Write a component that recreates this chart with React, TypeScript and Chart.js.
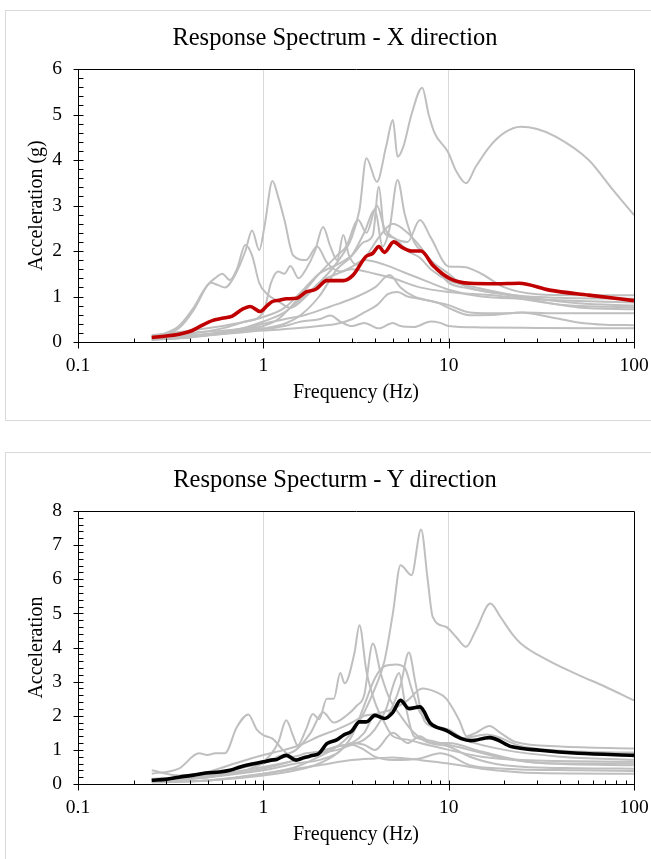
import React, { useEffect, useRef } from "react";
import { Chart, registerables } from "chart.js";

Chart.register(...registerables);

type Pt = [number, number];

const X_TICKS = [0.1, 1, 10, 100];
const X_LABELS = ["0.1", "1", "10", "100"];

// ---------- X direction ----------
const X_MEAN: Pt[] = [[0.25,0.10],[0.3,0.13],[0.35,0.17],[0.4,0.23],[0.45,0.33],[0.53,0.47],[0.6,0.52],[0.68,0.57],[0.77,0.72],[0.85,0.78],[0.96,0.67],[1.05,0.8],[1.12,0.89],[1.23,0.92],[1.33,0.95],[1.51,0.96],[1.7,1.1],[1.92,1.16],[2.2,1.35],[2.7,1.35],[3.05,1.47],[3.58,1.88],[3.9,1.95],[4.2,2.1],[4.5,1.97],[5.05,2.2],[5.6,2.08],[6.3,2.0],[7.1,2.0],[8.2,1.69],[10.1,1.4],[13,1.29],[18,1.28],[24,1.29],[35,1.14],[57,1.03],[100,0.91]];
const X_G1: Pt[] = [[0.25,0.05],[0.4,0.12],[0.6,0.22],[0.8,0.32],[1,0.45],[1.3,0.65],[1.6,0.95],[2,1.3],[2.5,1.75],[3,2.3],[3.3,2.9],[3.6,4.04],[4.1,3.52],[4.6,4.3],[5.0,4.88],[5.3,4.07],[5.7,4.3],[6.3,5.0],[7.2,5.59],[7.8,5.0],[8.4,4.59],[9.9,4.18],[11,3.75],[12.4,3.49],[14,3.85],[16.6,4.29],[20,4.6],[24.5,4.73],[30,4.68],[38,4.51],[57,4.0],[75,3.4],[100,2.79]];
const X_G2: Pt[] = [[0.25,0.12],[0.3,0.2],[0.35,0.35],[0.42,0.75],[0.48,1.15],[0.52,1.3],[0.57,1.25],[0.62,1.2],[0.7,1.45],[0.8,2.0],[0.87,2.45],[0.95,2.02],[1.02,2.6],[1.12,3.54],[1.2,3.2],[1.3,2.68],[1.45,1.9],[1.7,1.8],[1.95,2.1],[2.2,1.75],[2.6,1.55],[3.0,1.65],[3.5,1.8],[4.5,1.7],[6,1.5],[8,1.3],[10,1.15],[15,1.0],[25,0.95],[50,0.9],[100,0.87]];
const X_G3: Pt[] = [[0.25,0.1],[0.3,0.18],[0.35,0.3],[0.42,0.7],[0.5,1.25],[0.56,1.43],[0.6,1.5],[0.66,1.36],[0.72,1.6],[0.8,2.13],[0.87,1.9],[0.95,1.3],[1.05,1.05],[1.2,0.9],[1.4,0.75],[1.7,1.0],[2.0,1.3],[2.5,1.5],[3,1.6],[4,1.5],[5,1.4],[7,1.2],[10,1.1],[20,1.0],[40,0.82],[100,0.76]];
const X_G4: Pt[] = [[0.25,0.1],[0.4,0.18],[0.6,0.3],[0.8,0.45],[1.0,0.65],[1.1,1.3],[1.2,1.55],[1.3,1.5],[1.4,1.67],[1.55,1.4],[1.7,1.6],[1.9,2.0],[2.1,2.53],[2.3,2.1],[2.5,1.8],[2.7,2.35],[2.9,1.9],[3.2,1.7],[3.6,1.9],[4.2,2.3],[5,2.6],[6,2.4],[7,2.1],[8,1.8],[10,1.5],[12,1.25],[20,1.05],[40,0.97],[100,0.95]];
const X_G5: Pt[] = [[0.25,0.15],[0.35,0.22],[0.5,0.3],[0.7,0.4],[1.0,0.55],[1.3,0.75],[1.6,1.1],[2.0,1.5],[2.5,1.7],[3.0,1.9],[3.5,2.2],[3.9,2.35],[4.2,3.41],[4.5,2.4],[5,2.3],[6,2.0],[7,1.85],[8,1.6],[10,1.35],[14,1.2],[25,1.0],[50,0.85],[100,0.8]];
const X_G6: Pt[] = [[0.25,0.05],[0.4,0.1],[0.6,0.18],[0.8,0.25],[1,0.3],[1.3,0.4],[1.6,0.6],[2,1.0],[2.5,1.6],[3,1.9],[3.5,2.4],[4,2.9],[4.4,2.1],[4.8,2.5],[5.3,3.56],[5.8,2.8],[6.5,2.2],[7.5,1.9],[9,1.5],[10,1.3],[12,1.2],[20,1.05],[50,0.76],[100,0.72]];
const X_G7: Pt[] = [[0.25,0.05],[0.4,0.1],[0.6,0.2],[0.8,0.28],[1,0.35],[1.2,0.5],[1.5,0.9],[2,1.5],[2.5,1.9],[2.8,2.1],[3.25,2.68],[3.6,2.4],[4.1,3.0],[4.5,2.5],[5,2.3],[6,2.2],[7,2.68],[8,2.3],[10,1.66],[12,1.65],[15,1.5],[20,1.2],[30,1.05],[50,1.03],[100,1.03]];
const X_G8: Pt[] = [[0.25,0.08],[0.5,0.15],[1,0.25],[1.5,0.3],[2,0.35],[2.5,0.4],[3,0.5],[3.5,0.65],[4.1,0.81],[4.7,1.05],[5.3,1.1],[6,1.0],[7,0.95],[8.9,0.85],[10,0.75],[13,0.59],[18,0.6],[24.5,0.65],[35,0.55],[50,0.43],[70,0.38],[100,0.37]];
const X_G9: Pt[] = [[0.25,0.1],[0.4,0.15],[0.6,0.2],[0.8,0.25],[1,0.28],[1.3,0.35],[1.6,0.45],[2,0.5],[2.3,0.58],[2.6,0.45],[3,0.35],[3.5,0.42],[4.2,0.3],[5,0.42],[5.5,0.35],[6.5,0.33],[8,0.45],[9,0.42],[10,0.35],[15,0.32],[30,0.31],[100,0.3]];
const X_G10: Pt[] = [[0.25,0.12],[0.4,0.2],[0.6,0.25],[0.8,0.3],[1,0.4],[1.3,0.5],[1.7,0.6],[2.3,0.78],[3,0.95],[4,1.2],[4.8,1.47],[5.5,1.2],[6.5,1.0],[8,0.9],[10,0.81],[13,0.65],[20,0.63],[25,0.65],[40,0.63],[100,0.63]];

// ---------- Y direction ----------
const Y_MEAN: Pt[] = [[0.25,0.11],[0.3,0.14],[0.35,0.2],[0.42,0.26],[0.49,0.32],[0.58,0.35],[0.66,0.4],[0.75,0.5],[0.81,0.55],[0.9,0.6],[1.0,0.65],[1.1,0.7],[1.18,0.72],[1.33,0.84],[1.5,0.7],[1.65,0.77],[1.86,0.84],[2.0,0.9],[2.2,1.18],[2.5,1.3],[2.7,1.43],[3.0,1.55],[3.3,1.82],[3.6,1.82],[4.0,2.01],[4.5,1.92],[5.0,2.1],[5.5,2.45],[6.1,2.21],[7.0,2.26],[8.0,1.77],[9.7,1.57],[11.7,1.33],[13.2,1.27],[16.6,1.36],[22,1.09],[31,0.99],[50,0.9],[100,0.84]];
const Y_G1: Pt[] = [[0.25,0.05],[0.5,0.1],[1,0.3],[1.5,0.5],[2,0.8],[2.5,1.1],[3,1.5],[3.5,2.1],[4,2.8],[4.5,3.6],[5,5.0],[5.5,6.41],[6.3,6.12],[7.1,7.46],[7.7,6.0],[8.2,4.9],[9.7,4.6],[11,4.3],[12.4,4.02],[14,4.5],[16.8,5.29],[19,4.9],[22,4.4],[24.5,4.12],[35,3.6],[50,3.2],[70,2.85],[100,2.45]];
const Y_G2: Pt[] = [[0.25,0.15],[0.4,0.2],[0.6,0.35],[0.8,0.5],[1,0.65],[1.2,1.2],[1.33,1.87],[1.45,1.4],[1.53,1.13],[1.7,1.6],[1.85,2.05],[2.0,1.9],[2.2,2.5],[2.4,2.5],[2.6,3.25],[2.75,2.95],[3.1,3.83],[3.3,4.65],[3.6,3.3],[4.0,2.4],[4.5,1.8],[5,1.4],[6,1.3],[7,1.2],[10,1.0],[15,0.8],[25,0.7],[100,0.65]];
const Y_G3: Pt[] = [[0.25,0.1],[0.5,0.2],[0.8,0.4],[1.0,0.6],[1.2,0.8],[1.5,1.0],[1.8,1.5],[2.1,2.1],[2.4,1.8],[2.8,2.0],[3.2,2.3],[3.5,2.6],[3.9,4.12],[4.3,3.24],[4.8,2.5],[5.5,2.0],[6.5,1.5],[8,1.2],[10,1.2],[15,0.95],[30,0.62],[100,0.55]];
const Y_G4: Pt[] = [[0.25,0.05],[0.5,0.1],[1,0.25],[1.5,0.4],[2,0.6],[2.5,0.9],[3,1.4],[3.5,2.3],[4,3.1],[4.5,3.45],[5.2,3.5],[5.8,3.4],[6.3,2.8],[7,2.1],[8,1.8],[10,1.5],[12,1.3],[20,1.0],[40,0.8],[100,0.71]];
const Y_G5: Pt[] = [[0.25,0.15],[0.5,0.25],[1,0.5],[1.5,0.7],[2,0.9],[2.5,1.1],[3,1.2],[3.5,1.5],[4,2.0],[4.5,1.9],[5,2.3],[5.5,2.9],[6.1,3.85],[6.6,3.0],[7.2,2.0],[8,1.7],[10,1.6],[12,1.35],[16,1.45],[25,1.1],[50,0.95],[100,0.92]];
const Y_G6: Pt[] = [[0.25,0.1],[0.5,0.2],[1,0.45],[1.5,0.7],[2,0.9],[2.5,1.0],[3,1.15],[3.5,1.3],[4,1.6],[4.6,2.2],[5.1,3.0],[5.4,3.25],[5.8,2.4],[6.5,1.4],[7.5,1.3],[9,1.2],[12,1.05],[20,0.75],[40,0.6],[100,0.6]];
const Y_G7: Pt[] = [[0.25,0.4],[0.35,0.25],[0.5,0.35],[0.7,0.6],[1,0.85],[1.3,1.0],[1.6,1.15],[2,1.4],[2.5,1.6],[3,1.8],[3.5,2.0],[4,2.05],[5,2.2],[6,2.45],[7.2,2.8],[8.5,2.7],[9.7,2.5],[11.4,1.87],[12.5,1.4],[14,1.5],[16.6,1.7],[19,1.5],[23,1.23],[40,1.1],[100,1.04]];
const Y_G8: Pt[] = [[0.25,0.3],[0.35,0.45],[0.45,0.9],[0.5,0.85],[0.55,0.9],[0.62,0.9],[0.72,1.67],[0.83,2.04],[0.92,1.6],[1.0,1.43],[1.12,1.33],[1.28,0.99],[1.45,0.8],[1.7,0.9],[2,0.95],[2.5,1.1],[3,1.15],[3.5,1.0],[4,0.8],[5,0.7],[7,0.75],[9,0.9],[10,0.85],[13,0.55],[20,0.45],[50,0.4],[100,0.38]];
const Y_G9: Pt[] = [[0.25,0.05],[0.5,0.1],[1,0.3],[1.5,0.45],[2,0.55],[3,0.7],[4,0.75],[5,0.78],[7,0.7],[10,0.6],[15,0.45],[30,0.32],[100,0.3]];
const Y_G10: Pt[] = [[0.25,0.1],[0.5,0.2],[1,0.4],[1.5,0.6],[2,0.7],[2.5,0.9],[3,1.2],[3.5,1.15],[4,1.0],[5,1.5],[6,1.2],[7,1.4],[8,1.2],[10,1.1],[13,0.8],[20,0.55],[50,0.46],[100,0.45]];

const X_GRAYS = [X_G1, X_G2, X_G3, X_G4, X_G5, X_G6, X_G7, X_G8, X_G9, X_G10];
const Y_GRAYS = [Y_G1, Y_G2, Y_G3, Y_G4, Y_G5, Y_G6, Y_G7, Y_G8, Y_G9, Y_G10];

const FONT = "'Liberation Serif', 'Times New Roman', serif";

const axisPlugin = {
  id: "excelAxes",
  afterDraw(chart: any) {
    const { ctx, chartArea: a, scales } = chart;
    const xs = scales.x, ys = scales.y;
    ctx.save();
    ctx.strokeStyle = "#000";
    ctx.lineWidth = 1;
    ctx.beginPath();
    const L = Math.round(a.left) + 0.5, R = Math.round(a.right) + 0.5;
    const T = Math.round(a.top) + 0.5, B = Math.round(a.bottom) + 0.5;
    ctx.moveTo(L, T);
    ctx.lineTo(R, T);
    ctx.lineTo(R, B);
    ctx.lineTo(L, B);
    ctx.closePath();
    for (let d = 0.1; d < 101; d *= 10) {
      for (let m = 1; m <= 9; m++) {
        const v = d * m;
        if (v > 100.0001) break;
        const px = Math.round(xs.getPixelForValue(v)) + 0.5;
        if (m === 1) {
          ctx.moveTo(px, B - 4);
          ctx.lineTo(px, B + 6);
        } else {
          ctx.moveTo(px, B - 4);
          ctx.lineTo(px, B);
        }
      }
    }
    const max = ys.max;
    for (let i = 0; i <= Math.round(max * 5); i++) {
      const v = i / 5;
      const py = Math.round(ys.getPixelForValue(v)) + 0.5;
      if (i % 5 === 0) {
        ctx.moveTo(L - 5, py);
        ctx.lineTo(L + 5, py);
      } else {
        ctx.moveTo(L, py);
        ctx.lineTo(L + 5, py);
      }
    }
    ctx.stroke();
    ctx.restore();
  },
};

function toData(p: Pt[]) {
  return p.map(([x, y]) => ({ x, y }));
}

function SpectrumChart(props: {
  title: string;
  yTitle: string;
  yMax: number;
  mean: Pt[];
  meanColor: string;
  grays: Pt[][];
  top: number;
}) {
  const ref = useRef<HTMLCanvasElement | null>(null);
  useEffect(() => {
    if (!ref.current) return;
    const datasets: any[] = [
      {
        data: toData(props.mean),
        borderColor: props.meanColor,
        borderWidth: 3.6,
        pointRadius: 0,
        cubicInterpolationMode: "monotone",
        order: 0,
      },
      ...props.grays.map((g) => ({
        data: toData(g),
        borderColor: "#bfbfbf",
        borderWidth: 2,
        pointRadius: 0,
        cubicInterpolationMode: "monotone",
        order: 1,
      })),
    ];
    const chart = new Chart(ref.current, {
      type: "line",
      data: { datasets },
      plugins: [axisPlugin],
      options: {
        animation: false,
        responsive: false,
        maintainAspectRatio: false,
        devicePixelRatio: 1,
        layout: { padding: { left: 0, right: 17, top: 69, bottom: 0 } },
        plugins: {
          legend: { display: false },
          tooltip: { enabled: false },
          title: { display: false },
        },
        scales: {
          x: {
            type: "logarithmic",
            min: 0.1,
            max: 100,
            afterBuildTicks: (s: any) => {
              s.ticks = X_TICKS.map((v) => ({ value: v }));
            },
            afterFit: (s: any) => {
              s.height = 98;
              s.paddingLeft = 0;
              s.paddingRight = 0;
            },
            ticks: {
              autoSkip: false,
              maxRotation: 0,
              color: "#000",
              font: { family: FONT, size: 19.5 },
              padding: 12,
              callback: (_v: any, i: number) => X_LABELS[i],
            },
            grid: {
              drawTicks: false,
              lineWidth: 1,
              color: (c: any) =>
                c.tick && (c.tick.value === 1 || c.tick.value === 10) ? "#d9d9d9" : "rgba(0,0,0,0)",
            },
            border: { display: false },
            title: {
              display: true,
              text: "Frequency (Hz)",
              color: "#000",
              font: { family: FONT, size: 20 },
              padding: { top: 0, bottom: 35 },
            },
          },
          y: {
            min: 0,
            max: props.yMax,
            afterFit: (s: any) => {
              s.width = 78;
              s.paddingTop = 0;
              s.paddingBottom = 0;
            },
            ticks: {
              stepSize: 1,
              color: "#000",
              font: { family: FONT, size: 19.5 },
              padding: 16,
            },
            grid: { display: false, drawTicks: false },
            border: { display: false },
            title: {
              display: true,
              text: props.yTitle,
              color: "#000",
              font: { family: FONT, size: 20 },
              padding: { top: 25, bottom: 0 },
            },
          },
        },
      } as any,
    });
    return () => chart.destroy();
  }, []);
  return (
    <>
      <div
        style={{
          position: "absolute",
          left: 5,
          top: props.top + 10,
          width: 700,
          height: 411,
          border: "1px solid #d9d9d9",
          boxSizing: "border-box",
        }}
      />
      <canvas
        ref={ref}
        width={651}
        height={440}
        style={{ position: "absolute", left: 0, top: props.top, width: 651, height: 440 }}
      />
      <div
        style={{
          position: "absolute",
          left: 0,
          width: 670,
          top: props.top + 24,
          textAlign: "center",
          fontFamily: FONT,
          fontSize: 24.5,
          lineHeight: "26px",
          color: "#000",
          whiteSpace: "nowrap",
        }}
      >
        {props.title}
      </div>
    </>
  );
}

export default function App() {
  return (
    <div
      style={{
        position: "fixed",
        left: 0,
        top: 0,
        width: 651,
        height: 859,
        overflow: "hidden",
        background: "#fff",
      }}
    >
      <SpectrumChart
        title="Response Spectrum - X direction"
        yTitle="Acceleration (g)"
        yMax={6}
        mean={X_MEAN}
        meanColor="#c00000"
        grays={X_GRAYS}
        top={0}
      />
      <SpectrumChart
        title="Response Specturm - Y direction"
        yTitle="Acceleration"
        yMax={8}
        mean={Y_MEAN}
        meanColor="#000000"
        grays={Y_GRAYS}
        top={442}
      />
    </div>
  );
}
